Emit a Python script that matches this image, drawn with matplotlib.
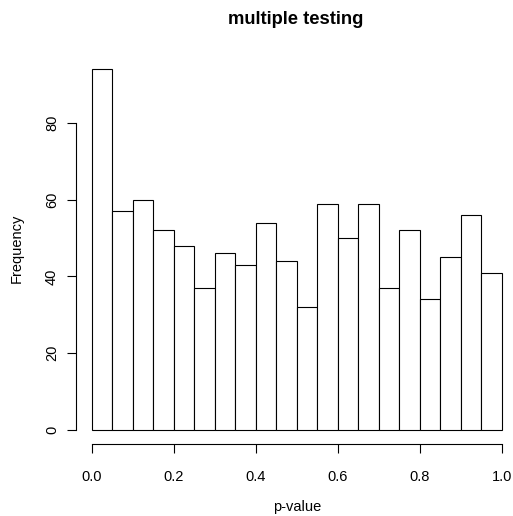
import numpy as np
import matplotlib
matplotlib.use("Agg")
import matplotlib.pyplot as plt

# histogram of p-values, 20 bins of width 0.05
bin_edges = np.linspace(0, 1, 21)
counts = [94, 57, 60, 52, 48, 37, 46, 43, 54, 44,
          32, 59, 50, 59, 37, 52, 34, 45, 56, 41]
x_ticks = [0.0, 0.2, 0.4, 0.6, 0.8, 1.0]
y_ticks = [0, 20, 40, 60, 80]

plt.rcParams["font.family"] = ["Liberation Sans", "DejaVu Sans"]

W, H = 513, 516
fig = plt.figure(figsize=(W / 100, H / 100), dpi=100)

# plot region in pixels (R style usr range, 4% extension)
left, right, top, bottom = 75.6, 513.0, 55.0, 444.1
ax = fig.add_axes([left / W, 1 - bottom / H, (right - left) / W, (bottom - top) / H])

ax.bar(bin_edges[:-1], counts, width=np.diff(bin_edges), align="edge",
       facecolor="white", edgecolor="black", linewidth=0.8)

ax.set_xlim(-0.04, -0.04 + (right - left) / 409.7)
ax.set_ylim(-0.04 * max(counts), 1.04 * max(counts))

for s in ["top", "right"]:
    ax.spines[s].set_visible(False)
ax.spines["left"].set_bounds(0, 80)
ax.spines["bottom"].set_bounds(0, 1)
for s in ["left", "bottom"]:
    ax.spines[s].set_linewidth(0.8)

ax.set_xticks(x_ticks)
ax.set_xticklabels([f"{v:.1f}" for v in x_ticks])
ax.set_yticks(y_ticks)
ax.set_yticklabels([str(v) for v in y_ticks], rotation=90, va="center")
ax.tick_params(axis="both", length=6.5, width=0.8, labelsize=10.5, colors="black")
ax.tick_params(axis="x", pad=12.5)
ax.tick_params(axis="y", pad=5.5)

fig.text(295.5 / W, 1 - 20 / H, "multiple testing", ha="center", va="center",
         fontsize=13.2, fontweight="bold")
fig.text(296.8 / W, 1 - 507 / H, "p-value", ha="center", va="center", fontsize=10.5)
fig.text(16.5 / W, 1 - 248.5 / H, "Frequency", ha="center", va="center",
         fontsize=10.5, rotation=90)

fig.savefig("out.png", dpi=100)
